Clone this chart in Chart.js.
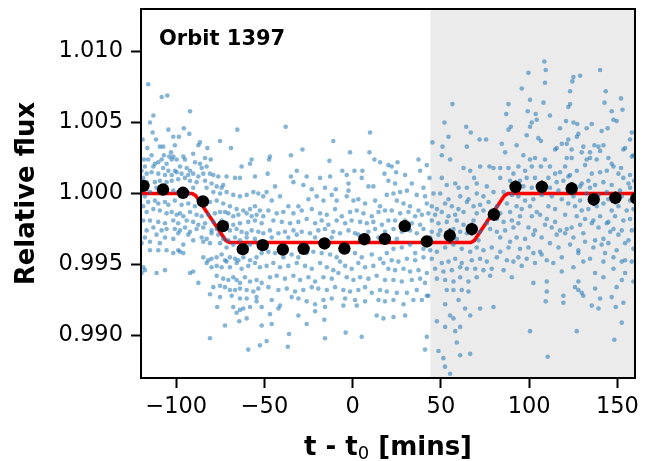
<!DOCTYPE html>
<html>
<head>
<meta charset="utf-8">
<script src="https://cdn.jsdelivr.net/npm/chart.js@4.4.1/dist/chart.umd.min.js"></script>
<style>
  html, body { margin: 0; padding: 0; background: #fff; }
</style>
</head>
<body>
<canvas id="lcChart" width="665" height="461"></canvas>
<script>
const xTicks = [-100, -50, 0, 50, 100, 150];
const yTicks = [0.990, 0.995, 1.000, 1.005, 1.010];
const shadeStart = 44; // mins, start of grey band

// binned points (black)
const binTime = [-118.6, -107.5, -96.2, -84.9, -73.6, -62.3, -51.0, -39.6, -27.8, -16.0, -4.7, 6.6,
  18.2, 29.5, 42.0, 55.0, 67.5, 80.0, 92.3, 107.2, 124.1, 136.6, 148.9, 160.7];
const binFlux = [1.00054, 1.00028, 1.00005, 0.99944, 0.9977, 0.99608, 0.99636, 0.99605, 0.9961, 0.99648, 0.99612, 0.99678,
  0.9968, 0.9977, 0.99662, 0.99704, 0.99749, 0.99852, 1.00047, 1.00047, 1.00035, 0.99958, 0.99969, 0.99965];
const binErr = [0.0003, 0.0003, 0.0003, 0.0003, 0.0003, 0.0003, 0.0003, 0.0003, 0.0003, 0.0003, 0.0003, 0.0003,
  0.0003, 0.0003, 0.0003, 0.0005, 0.00045, 0.00045, 0.00045, 0.00045, 0.00045, 0.00045, 0.00045, 0.00045];

// transit model (red)
const modelTime = [-120, -91, -89, -72, -70, 67, 69, 86, 88, 160];
const modelFlux = [1, 1, 0.99985, 0.9967, 0.99655, 0.99655, 0.9967, 0.99985, 1, 1];

// raw photometry (blue), [mins, relative flux]
const rawPoints = [
  [-115.9,1.0077],[-108.3,1.0068],[-105.1,1.0069],[-92.2,1.0058],[-113.0,1.0055],[-114.9,1.0050],[-113.4,1.0043],[-111.5,1.0038],
  [-104.5,1.0045],[-98.5,1.0040],[-101.7,1.0040],[-95.7,1.0046],[-92.6,1.0042],[-65.4,1.0045],[-75.2,1.0037],[-69.0,1.0032],
  [-82.4,1.0032],[-86.6,1.0036],[-87.5,1.0034],[-119.1,1.0038],[-116.4,1.0032],[-114.0,1.0027],[-109.3,1.0033],[-107.4,1.0033],
  [-107.0,1.0027],[-103.0,1.0029],[-104.0,1.0026],[-101.7,1.0026],[-100.8,1.0034],[-118.3,1.0024],[-115.9,1.0024],[-112.1,1.0021],
  [-110.2,1.0022],[-108.3,1.0024],[-105.5,1.0021],[-102.6,1.0024],[-99.8,1.0024],[-95.1,1.0024],[-96.0,1.0026],[-90.4,1.0028],
  [-89.4,1.0022],[-86.6,1.0021],[-83.7,1.0025],[-80.5,1.0024],[-82.8,1.0019],[-85.6,1.0018],[-94.1,1.0018],[-92.2,1.0016],
  [-97.9,1.0019],[-100.8,1.0016],[-104.5,1.0016],[-107.4,1.0018],[-113.0,1.0019],[-117.8,1.0019],[-119.7,1.0016],[-116.8,1.0014],
  [-114.0,1.0015],[-110.2,1.0014],[-106.4,1.0013],[-102.6,1.0013],[-99.8,1.0015],[-97.0,1.0014],[-93.2,1.0013],[-90.4,1.0014],
  [-87.5,1.0012],[-84.7,1.0014],[-80.9,1.0014],[-79.0,1.0013],[-76.2,1.0012],[-71.5,1.0012],[-66.7,1.0011],[-63.9,1.0011],
  [-63.0,1.0019],[-58.2,1.0021],[-57.3,1.0024],[-55.4,1.0012],[-73.4,1.0006],[-77.1,1.0005],[-74.3,1.0004],[-80.0,1.0007],
  [-83.7,1.0009],[-88.5,1.0008],[-92.2,1.0009],[-95.1,1.0011],[-98.9,1.0010],[-102.6,1.0009],[-105.5,1.0008],[-109.3,1.0009],
  [-112.1,1.0008],[-116.8,1.0008],[-118.7,1.0011],
  [-114.9,1.0001],[-111.2,1.0004],[-107.4,1.0001],[-101.7,1.0002],[-98.9,1.0001],[-93.2,1.0000],[-90.4,1.0004],[-82.8,1.0004],
  [-79.0,1.0001],[-75.2,1.0000],[-71.5,1.0001],[-67.7,0.9999],[-63.9,0.9998],[-60.1,0.9999],[-56.3,1.0001],[-53.5,1.0000],
  [-50.7,0.9998],[-117.8,0.9998],[-115.9,0.9994],[-112.1,0.9995],[-110.2,0.9993],[-106.4,0.9994],[-104.5,0.9992],[-100.8,0.9995],
  [-97.0,0.9992],[-93.2,0.9993],[-89.4,0.9991],[-87.5,0.9995],[-84.7,0.9995],[-80.9,0.9994],[-77.1,0.9995],[-73.4,0.9993],
  [-69.6,0.9991],[-65.8,0.9989],[-62.0,0.9988],[-58.2,0.9989],[-55.4,0.9991],[-52.6,0.9988],[-118.7,0.9991],[-116.8,0.9987],
  [-113.0,0.9989],[-109.3,0.9988],[-105.5,0.9986],[-102.6,0.9987],[-99.8,0.9985],[-97.9,0.9986],[-96.0,0.9984],[-92.2,0.9987],
  [-88.5,0.9985],[-85.6,0.9984],[-81.9,0.9985],[-78.1,0.9986],[-75.2,0.9987],[-72.4,0.9987],[-70.5,0.9986],[-67.7,0.9984],
  [-64.8,0.9985],[-60.1,0.9986],[-57.3,0.9984],[-54.5,0.9985],[-50.7,0.9984],
  [-118.7,0.9981],[-114.9,0.9981],[-110.2,0.9980],[-106.4,0.9979],[-101.7,0.9981],[-98.9,0.9979],[-94.1,0.9981],[-90.4,0.9980],
  [-87.5,0.9978],[-83.7,0.9979],[-79.0,0.9980],[-74.3,0.9981],[-71.5,0.9979],[-67.7,0.9978],[-63.9,0.9979],[-59.2,0.9980],
  [-55.4,0.9981],[-51.6,0.9979],[-116.8,0.9974],[-113.0,0.9976],[-108.3,0.9974],[-105.5,0.9975],[-100.8,0.9975],[-97.9,0.9974],
  [-95.1,0.9976],[-92.2,0.9973],[-88.5,0.9975],[-84.7,0.9976],[-80.0,0.9974],[-77.1,0.9975],[-72.4,0.9975],[-69.6,0.9974],
  [-65.8,0.9975],[-63.0,0.9973],[-60.1,0.9972],[-57.3,0.9974],[-53.5,0.9973],[-50.7,0.9972],[-117.8,0.9969],[-111.2,0.9971],
  [-106.4,0.9969],[-101.7,0.9968],[-98.9,0.9972],[-93.2,0.9971],[-90.4,0.9967],[-85.6,0.9969],[-82.8,0.9968],[-80.0,0.9972],
  [-76.2,0.9971],[-73.4,0.9968],[-70.5,0.9967],[-66.7,0.9969],[-63.9,0.9967],[-60.1,0.9969],[-55.4,0.9968],[-52.6,0.9966],
  [-119.7,0.9965],[-114.9,0.9966],[-109.3,0.9965],[-96.0,0.9964],[-84.7,0.9966],[-80.9,0.9965],[-75.2,0.9965],[-71.5,0.9962],
  [-67.7,0.9964],[-63.9,0.9962],[-58.2,0.9964],[-52.6,0.9962],
  [-114.9,0.9960],[-110.2,0.9960],[-105.5,0.9960],[-101.7,0.9958],[-98.9,0.9960],[-97.9,0.9959],[-96.0,0.9958],[-84.7,0.9955],
  [-81.9,0.9953],[-80.0,0.9954],[-77.1,0.9955],[-74.3,0.9957],[-72.4,0.9953],[-69.6,0.9955],[-66.7,0.9954],[-64.8,0.9953],
  [-62.0,0.9955],[-58.2,0.9953],[-54.5,0.9955],[-51.6,0.9958],[-118.7,0.9948],[-117.8,0.9946],[-111.2,0.9944],[-106.4,0.9946],
  [-92.2,0.9944],[-90.4,0.9945],[-82.8,0.9951],[-80.0,0.9948],[-77.1,0.9949],[-74.3,0.9948],[-71.5,0.9952],[-69.6,0.9948],
  [-65.8,0.9951],[-63.0,0.9947],[-59.2,0.9949],[-55.4,0.9951],[-52.6,0.9948],[-119.7,0.9944],[-87.5,0.9937],[-77.1,0.9942],
  [-73.4,0.9940],[-70.5,0.9939],[-67.7,0.9941],[-65.8,0.9939],[-63.9,0.9937],[-61.1,0.9941],[-58.2,0.9938],[-54.5,0.9939],
  [-51.6,0.9937],[-79.0,0.9934],[-75.2,0.9935],[-72.4,0.9934],[-69.6,0.9932],[-66.7,0.9932],[-63.9,0.9933],[-60.1,0.9932],
  [-56.3,0.9931],[-53.5,0.9933],[-80.9,0.9929],[-75.2,0.9927],[-68.6,0.9928],[-63.9,0.9926],[-60.1,0.9926],[-54.5,0.9927],
  [-76.8,0.9920],[-67.7,0.9920],[-62.0,0.9919],[-58.2,0.9920],[-54.5,0.9924],[-51.6,0.9920],[-65.8,0.9916],[-63.9,0.9918],
  [-60.1,0.9912],[-72.4,0.9907],[-64.3,0.9910],[-51.6,0.9907],[-80.9,0.9898],[-52.6,0.9893],[-59.2,0.9890],

  [-38.0,1.0047],[-11.0,1.0037],[9.8,1.0043],[-28.5,1.0031],[-1.5,1.0029],[-46.9,1.0026],[-47.4,1.0024],[-35.0,1.0027],
  [-13.2,1.0023],[9.5,1.0029],[12.3,1.0024],[15.5,1.0022],[20.2,1.0020],[-48.2,1.0014],[-31.7,1.0016],[-35.0,1.0012],
  [-26.1,1.0012],[-18.5,1.0011],[-12.8,1.0012],[-5.9,1.0016],[-3.4,1.0013],[1.0,1.0016],[5.5,1.0016],[-28.0,1.0006],
  [-33.6,1.0008],[-23.2,1.0003],[-15.7,1.0004],[-9.6,1.0003],[-2.4,1.0007],[-2.4,1.0002],[5.1,1.0011],[8.9,1.0005],
  [11.7,1.0005],[18.0,1.0014],[20.2,1.0009],[-44.0,1.0005],[-48.8,1.0001],[-41.2,0.9998],[-45.9,0.9995],[-36.5,0.9991],
  [-30.8,0.9991],[-25.1,0.9996],[-20.4,0.9998],[-16.6,0.9995],[-11.9,0.9999],[-9.1,0.9995],[-3.4,0.9998],[0.4,0.9995],
  [3.2,0.9996],[7.0,0.9993],[12.7,0.9995],[15.5,0.9991],[19.3,0.9999],[-47.8,0.9988],[-43.1,0.9986],[-39.3,0.9987],
  [-33.6,0.9986],[-28.9,0.9988],[-23.2,0.9989],[-18.5,0.9986],[-14.7,0.9985],[-10.0,0.9989],[-6.2,0.9984],[-1.5,0.9987],
  [2.3,0.9988],[6.1,0.9986],[10.8,0.9984],[14.6,0.9987],[18.3,0.9988],[-45.0,0.9981],[-40.2,0.9980],[-35.5,0.9979],
  [-30.8,0.9980],[-26.1,0.9982],[-21.3,0.9979],[-17.6,0.9981],[-13.8,0.9978],[-9.1,0.9981],[-4.3,0.9979],[-0.6,0.9981],
  [4.2,0.9980],[8.0,0.9979],[11.7,0.9980],[16.5,0.9978],[20.2,0.9981],[-46.9,0.9974],[-42.1,0.9972],[-38.4,0.9973],
  [-33.6,0.9974],[-28.9,0.9973],[-24.2,0.9972],[-19.5,0.9974],[-15.7,0.9975],[-11.0,0.9973],[-7.2,0.9972],[-2.4,0.9974],
  [1.3,0.9972],[8.9,0.9973],[12.7,0.9975],[18.3,0.9973],[-45.9,0.9969],[-36.5,0.9969],[-31.7,0.9971],[-21.3,0.9969],
  [-11.9,0.9969],[3.2,0.9971],[14.6,0.9969],
  [-47.8,0.9959],[-44.0,0.9958],[-39.3,0.9955],[-34.6,0.9957],[-30.8,0.9955],[-26.1,0.9958],[-22.3,0.9959],[-17.6,0.9958],
  [-12.8,0.9957],[-9.1,0.9955],[-3.4,0.9959],[1.3,0.9958],[5.1,0.9955],[10.8,0.9957],[15.5,0.9954],[19.3,0.9958],
  [-48.8,0.9949],[-45.0,0.9951],[-41.2,0.9948],[-36.5,0.9949],[-31.7,0.9951],[-27.0,0.9949],[-23.2,0.9947],[-18.5,0.9951],
  [-14.7,0.9948],[-11.0,0.9946],[-7.2,0.9952],[-4.3,0.9949],[-0.6,0.9947],[3.2,0.9951],[7.0,0.9948],[11.7,0.9949],
  [17.4,0.9951],[20.2,0.9947],[-46.9,0.9941],[-43.1,0.9942],[-38.4,0.9940],[-33.6,0.9942],[-29.8,0.9939],[-25.1,0.9941],
  [-21.3,0.9938],[-16.6,0.9941],[-11.9,0.9940],[-8.1,0.9944],[-3.4,0.9941],[0.4,0.9939],[4.2,0.9941],[8.9,0.9940],
  [13.6,0.9942],[18.3,0.9939],[-47.8,0.9934],[-42.1,0.9932],[-37.4,0.9933],[-32.7,0.9931],[-28.0,0.9932],[-23.2,0.9934],
  [-19.5,0.9933],[-14.7,0.9932],[-10.0,0.9934],[-5.3,0.9932],[-1.5,0.9931],[3.2,0.9932],[7.0,0.9934],[10.8,0.9930],
  [15.5,0.9932],[19.3,0.9931],[-45.9,0.9925],[-41.2,0.9921],[-34.6,0.9927],[-30.8,0.9926],[-26.1,0.9924],[-21.3,0.9922],
  [-16.6,0.9925],[-11.9,0.9926],[-4.3,0.9926],[1.3,0.9925],[7.0,0.9924],[14.6,0.9925],[18.3,0.9924],[-46.9,0.9915],
  [-30.8,0.9914],[-21.3,0.9917],[-15.7,0.9920],[-5.3,0.9921],[2.3,0.9921],[13.6,0.9914],[17.4,0.9912],[-42.1,0.9919],
  [-45.9,0.9908],[-26.1,0.9908],[-16.1,0.9911],[-4.0,0.9902],[5.1,0.9899],[-36.1,0.9901],[-48.8,0.9896],[-36.8,0.9892],
  [-15.7,0.9898],

  [56.5,1.0063],[88.3,1.0063],[87.0,1.0056],[52.0,1.0050],[64.3,1.0047],[66.9,1.0043],[89.6,1.0047],[88.3,1.0045],
  [54.3,1.0040],[45.2,1.0036],[50.9,1.0033],[64.7,1.0033],[71.9,1.0038],[75.6,1.0038],[84.5,1.0035],[86.4,1.0029],
  [25.4,1.0022],[37.3,1.0024],[42.0,1.0020],[50.5,1.0027],[55.2,1.0024],[38.2,1.0016],[62.8,1.0018],[66.6,1.0016],
  [68.8,1.0011],[72.2,1.0019],[77.5,1.0019],[79.8,1.0018],[83.6,1.0018],[88.3,1.0018],[91.1,1.0014],[22.1,1.0019],
  [24.6,1.0015],[29.7,1.0013],[33.5,1.0007],[40.1,1.0004],[43.5,1.0011],[50.5,1.0011],[53.3,1.0006],[58.1,1.0007],
  [60.0,1.0004],[64.7,1.0004],[70.3,1.0007],[76.0,1.0005],[83.6,1.0011],[89.2,1.0009],[24.0,1.0007],
  [23.1,1.0000],[26.9,1.0001],[30.7,1.0002],[36.3,0.9999],[41.0,0.9998],[45.8,1.0000],[49.6,1.0000],[54.3,0.9996],
  [60.9,0.9998],[65.6,0.9996],[70.3,1.0000],[74.1,0.9998],[79.8,1.0001],[85.5,1.0001],[90.2,0.9999],[25.0,0.9995],
  [28.8,0.9993],[32.5,0.9991],[37.3,0.9988],[42.0,0.9993],[44.8,0.9991],[47.7,0.9989],[52.4,0.9993],[56.2,0.9991],
  [59.9,0.9989],[64.7,0.9994],[68.5,0.9991],[72.2,0.9992],[77.0,0.9994],[81.7,0.9991],[87.4,0.9993],[22.1,0.9988],
  [26.9,0.9986],[31.6,0.9987],[35.4,0.9984],[39.2,0.9985],[42.9,0.9986],[46.7,0.9985],[50.5,0.9987],[54.3,0.9984],
  [58.1,0.9985],[62.8,0.9987],[70.3,0.9986],[74.1,0.9988],[83.6,0.9986],[89.2,0.9987],
  [24.0,0.9981],[29.7,0.9981],[33.5,0.9979],[38.2,0.9978],[44.8,0.9981],[48.6,0.9979],[53.3,0.9980],[59.0,0.9981],
  [62.8,0.9978],[68.5,0.9981],[76.0,0.9979],[81.7,0.9982],[85.5,0.9980],[90.2,0.9981],[23.1,0.9975],[27.8,0.9973],
  [32.5,0.9974],[36.3,0.9972],[40.1,0.9975],[44.8,0.9973],[49.6,0.9974],[57.1,0.9975],[60.9,0.9973],[64.7,0.9972],
  [72.2,0.9973],[77.9,0.9975],[81.7,0.9973],[86.4,0.9974],[91.1,0.9976],[25.0,0.9968],[43.9,0.9969],[48.6,0.9971],
  [59.0,0.9968],[71.3,0.9967],[83.6,0.9969],[89.2,0.9966],
  [23.1,0.9961],[27.8,0.9962],[32.5,0.9964],[35.4,0.9958],[40.1,0.9961],[43.9,0.9960],[47.7,0.9959],[52.4,0.9962],
  [57.1,0.9964],[61.8,0.9961],[66.6,0.9959],[70.3,0.9962],[74.1,0.9960],[78.8,0.9962],[83.6,0.9959],[88.3,0.9962],
  [22.1,0.9953],[25.9,0.9952],[30.7,0.9954],[35.4,0.9953],[40.1,0.9955],[44.8,0.9954],[50.5,0.9951],[54.3,0.9952],
  [58.1,0.9954],[61.8,0.9951],[67.5,0.9953],[72.2,0.9954],[76.0,0.9952],[81.7,0.9955],[87.4,0.9953],[91.1,0.9952],
  [24.0,0.9946],[28.8,0.9947],[32.5,0.9945],[37.3,0.9946],[42.0,0.9944],[46.7,0.9947],[51.4,0.9945],[56.2,0.9946],
  [60.9,0.9948],[64.7,0.9947],[69.4,0.9947],[74.1,0.9946],[78.8,0.9947],[85.5,0.9946],[90.2,0.9941],[23.1,0.9939],
  [27.8,0.9938],[33.5,0.9939],[38.2,0.9940],[41.0,0.9937],[47.7,0.9940],[52.4,0.9939],[57.1,0.9938],[60.9,0.9941],
  [65.6,0.9938],[70.3,0.9941],[77.9,0.9942],[25.0,0.9930],[30.7,0.9930],[36.3,0.9932],[42.0,0.9928],[53.3,0.9932],
  [57.1,0.9932],[61.8,0.9932],[65.6,0.9931],[23.1,0.9925],[28.8,0.9922],[34.4,0.9925],[39.2,0.9925],[42.9,0.9928],
  [52.4,0.9922],[60.0,0.9925],[63.7,0.9919],[72.2,0.9919],[79.8,0.9920],[29.7,0.9914],[23.1,0.9913],[47.7,0.9910],
  [55.2,0.9914],[57.1,0.9912],[66.6,0.9914],[52.4,0.9906],[60.9,0.9906],[58.1,0.9903],[42.0,0.9899],[59.0,0.9895],
  [41.0,0.9890],[48.6,0.9889],[60.9,0.9886],[66.6,0.9887],[51.4,0.9884],[55.2,0.9873],[52.3,0.9878],

  [108.6,1.0093],[99.6,1.0085],[109.4,1.0087],[140.2,1.0087],[128.9,1.0083],[125.1,1.0082],[124.5,1.0079],[109.0,1.0078],
  [95.8,1.0074],[123.2,1.0072],[143.4,1.0072],[100.5,1.0066],[108.1,1.0064],[142.7,1.0064],[152.1,1.0067],[122.2,1.0061],
  [123.2,1.0063],[111.8,1.0055],[99.2,1.0058],[103.7,1.0056],[146.8,1.0058],[152.9,1.0059],[120.9,1.0051],[125.1,1.0050],
  [127.3,1.0049],[135.5,1.0049],[101.5,1.0050],[100.5,1.0047],[104.3,1.0052],[147.8,1.0052],[149.6,1.0051],[117.5,1.0046],
  [132.6,1.0046],[141.1,1.0044],[144.5,1.0046],[158.2,1.0043],[98.6,1.0041],[105.2,1.0039],[106.7,1.0037],[122.2,1.0038],
  [127.0,1.0040],[127.9,1.0042],[121.3,1.0035],[118.5,1.0035],[115.6,1.0032],[130.7,1.0033],[137.0,1.0034],[139.3,1.0033],
  [142.1,1.0034],[154.4,1.0032],[157.2,1.0038],[92.9,1.0034],[114.7,1.0031],[124.1,1.0031],[129.8,1.0029],[134.5,1.0029],
  [140.2,1.0030],[153.4,1.0031],[159.1,1.0027],[96.7,1.0027],[100.5,1.0024],[109.0,1.0024],[103.3,1.0025],[121.3,1.0025],
  [124.1,1.0025],[134.5,1.0025],[138.3,1.0024],[132.6,1.0024],[144.9,1.0025],[146.8,1.0021],[147.8,1.0019],[152.1,1.0018],
  [158.2,1.0026],[93.9,1.0019],[97.7,1.0016],[101.5,1.0019],[106.7,1.0019],[111.8,1.0019],[114.7,1.0014],[117.5,1.0015],
  [120.4,1.0019],[123.2,1.0013],[127.0,1.0016],[131.7,1.0020],[135.5,1.0014],[140.2,1.0015],[144.0,1.0016],[150.6,1.0014],
  [153.4,1.0011],[157.2,1.0013],[94.8,1.0009],[98.6,1.0011],[103.3,1.0011],[110.9,1.0011],[115.6,1.0008],[119.4,1.0009],
  [122.2,1.0012],[129.8,1.0007],[133.6,1.0009],[137.4,1.0006],[142.1,1.0008],[146.8,1.0006],[156.3,1.0007],[159.5,1.0009],
  [96.7,1.0005],[101.5,1.0004],[111.8,1.0004],[116.6,1.0002],[128.9,1.0005],[134.5,1.0004],[144.0,1.0001],[151.5,1.0002],
  [157.2,1.0004],
  [93.9,0.9998],[97.7,0.9995],[102.4,0.9996],[107.1,0.9999],[112.8,0.9998],[118.5,0.9996],[125.1,0.9998],[128.9,0.9995],
  [132.6,1.0000],[139.3,0.9999],[144.9,0.9996],[152.5,0.9998],[157.2,0.9995],[92.9,0.9991],[95.8,0.9989],[100.5,0.9991],
  [104.3,0.9987],[110.9,0.9991],[114.7,0.9989],[122.2,0.9993],[126.0,0.9991],[129.8,0.9988],[133.6,0.9989],[138.3,0.9991],
  [142.1,0.9993],[146.8,0.9988],[150.6,0.9991],[155.3,0.9988],[159.1,0.9989],[94.8,0.9984],[101.5,0.9984],[106.2,0.9985],
  [110.0,0.9982],[114.7,0.9980],[120.4,0.9985],[127.0,0.9984],[131.7,0.9982],[136.4,0.9981],[140.2,0.9984],[144.9,0.9980],
  [148.7,0.9984],[153.4,0.9981],[157.2,0.9982],[93.9,0.9979],[99.6,0.9976],[103.3,0.9974],[109.0,0.9978],[112.8,0.9976],
  [117.5,0.9974],[121.3,0.9975],[124.1,0.9976],[128.9,0.9978],[135.5,0.9979],[139.3,0.9976],[144.0,0.9979],[147.8,0.9975],
  [152.5,0.9974],[158.2,0.9974],[92.9,0.9969],[97.7,0.9968],[102.4,0.9971],[107.1,0.9969],[115.6,0.9971],[120.4,0.9972],
  [125.1,0.9969],[130.7,0.9972],[137.4,0.9967],[142.1,0.9968],[145.9,0.9973],[150.6,0.9971],[156.3,0.9967],
  [94.8,0.9961],[99.6,0.9962],[106.2,0.9959],[111.8,0.9965],[116.6,0.9962],[123.2,0.9964],[127.9,0.9960],[131.7,0.9966],
  [136.4,0.9962],[141.1,0.9964],[144.9,0.9965],[149.6,0.9960],[154.4,0.9965],[159.1,0.9961],[93.9,0.9955],[98.6,0.9954],
  [102.4,0.9958],[107.1,0.9957],[110.0,0.9953],[118.5,0.9955],[127.9,0.9958],[134.5,0.9954],[143.0,0.9958],[147.8,0.9955],
  [154.4,0.9953],[95.8,0.9949],[103.3,0.9951],[113.7,0.9951],[118.5,0.9945],[125.1,0.9948],[130.7,0.9952],[137.4,0.9944],
  [142.1,0.9952],[147.8,0.9947],[152.5,0.9952],[158.2,0.9952],[154.4,0.9944],[102.4,0.9937],[110.0,0.9938],[127.9,0.9938],
  [129.8,0.9930],[137.4,0.9933],[142.1,0.9941],[149.6,0.9934],[152.5,0.9939],[159.1,0.9938],[126.0,0.9934],[127.9,0.9932],
  [119.4,0.9928],[119.4,0.9923],[110.0,0.9931],[109.4,0.9924],[130.7,0.9928],[135.5,0.9921],[139.3,0.9919],[140.2,0.9926],
  [146.8,0.9927],[149.1,0.9920],[153.4,0.9923],[100.5,0.9903],[127.0,0.9903],[152.5,0.9909],[148.3,0.9897],[110.5,0.9885]
];

const fontFamily = "'DejaVu Sans', sans-serif";

const extras = {
  id: "extras",
  beforeDatasetsDraw(chart) {
    // grey band for the second part of the orbit
    const { ctx, chartArea: a, scales: { x } } = chart;
    const x0 = x.getPixelForValue(shadeStart);
    ctx.save();
    ctx.fillStyle = "#ebebeb";
    ctx.fillRect(x0, a.top, a.right - x0, a.bottom - a.top);
    ctx.restore();
  },
  afterDatasetsDraw(chart) {
    // error bars on the binned points
    const { ctx, chartArea: a, scales: { x, y } } = chart;
    ctx.save();
    ctx.beginPath();
    ctx.rect(a.left, a.top, a.right - a.left, a.bottom - a.top);
    ctx.clip();
    ctx.strokeStyle = "#000";
    ctx.lineWidth = 2;
    binTime.forEach((t, i) => {
      const px = x.getPixelForValue(t);
      ctx.beginPath();
      ctx.moveTo(px, y.getPixelForValue(binFlux[i] - binErr[i]));
      ctx.lineTo(px, y.getPixelForValue(binFlux[i] + binErr[i]));
      ctx.stroke();
    });
    ctx.restore();
  },
  afterDraw(chart) {
    const { ctx, chartArea: a } = chart;
    ctx.save();
    ctx.strokeStyle = "#000";
    ctx.lineWidth = 2;
    ctx.strokeRect(a.left, a.top, a.right - a.left, a.bottom - a.top);
    ctx.fillStyle = "#000";
    ctx.textBaseline = "alphabetic";
    ctx.font = "bold 21px " + fontFamily;
    ctx.fillText("Orbit 1397", a.left + 18, a.top + 35.5);

    // x-axis label with a real subscript
    const big = "bold 26px " + fontFamily;
    const small = "18px " + fontFamily;
    const p1 = "t - t", p2 = "0", p3 = " [mins]";
    ctx.font = big;
    const w1 = ctx.measureText(p1).width, w3 = ctx.measureText(p3).width;
    ctx.font = small;
    const w2 = ctx.measureText(p2).width;
    let xs = (a.left + a.right) / 2 - (w1 + w2 + w3) / 2;
    const base = 455;
    ctx.font = big;
    ctx.fillText(p1, xs, base);
    xs += w1;
    ctx.font = small;
    ctx.fillText(p2, xs, base + 4);
    xs += w2;
    ctx.font = big;
    ctx.fillText(p3, xs, base);
    ctx.restore();
  },
};

const ctx = document.getElementById("lcChart").getContext("2d");
const lcChart = new Chart(ctx, {
  type: "scatter",
  data: {
    datasets: [
      {
        label: "Binned",
        data: binTime.map((t, i) => ({ x: t, y: binFlux[i] })),
        backgroundColor: "#000",
        borderWidth: 0,
        pointRadius: 6.2,
        clip: 0,
        order: 0,
      },
      {
        label: "Raw",
        data: rawPoints.map((p) => ({ x: p[0], y: p[1] })),
        backgroundColor: "rgba(31, 119, 180, 0.55)",
        borderWidth: 0,
        pointRadius: 2.3,
        clip: 0,
        order: 1,
      },
      {
        label: "Model",
        data: modelTime.map((t, i) => ({ x: t, y: modelFlux[i] })),
        showLine: true,
        borderColor: "#ff0000",
        borderWidth: 3.5,
        pointRadius: 0,
        tension: 0,
        clip: 0,
        order: 2,
      },
    ],
  },
  options: {
    responsive: false,
    animation: false,
    layout: { padding: { left: 0, top: 9, right: 30, bottom: 0 } },
    plugins: {
      legend: { display: false },
      tooltip: { enabled: false },
    },
    scales: {
      x: {
        type: "linear",
        min: -120,
        max: 160,
        afterBuildTicks: (scale) => {
          scale.ticks = xTicks.map((v) => ({ value: v }));
        },
        afterFit: (scale) => {
          scale.height = 83;
          scale.paddingLeft = 0;
          scale.paddingRight = 0;
        },
        ticks: {
          autoSkip: false,
          maxRotation: 0,
          padding: 6,
          color: "#000",
          font: { family: fontFamily, size: 22.5 },
          callback: (v) => (v < 0 ? "\u2212" + Math.abs(v) : String(v)),
        },
        grid: { drawOnChartArea: false, tickLength: 10, tickWidth: 2, tickColor: "#000" },
        border: { display: false },
        title: { display: false },
      },
      y: {
        type: "linear",
        min: 0.987,
        max: 1.013,
        afterBuildTicks: (scale) => {
          scale.ticks = yTicks.map((v) => ({ value: v }));
        },
        afterFit: (scale) => {
          scale.width = 141;
          scale.paddingTop = 0;
          scale.paddingBottom = 0;
        },
        ticks: {
          autoSkip: false,
          padding: 8,
          color: "#000",
          font: { family: fontFamily, size: 22.5 },
          callback: (v) => v.toFixed(3),
        },
        grid: { drawOnChartArea: false, tickLength: 10, tickWidth: 2, tickColor: "#000" },
        border: { display: false },
        title: {
          display: true,
          text: "Relative flux",
          color: "#000",
          font: { family: fontFamily, size: 26, weight: "bold" },
          padding: { top: 12, bottom: 0 },
        },
      },
    },
  },
  plugins: [extras],
});
</script>
</body>
</html>
